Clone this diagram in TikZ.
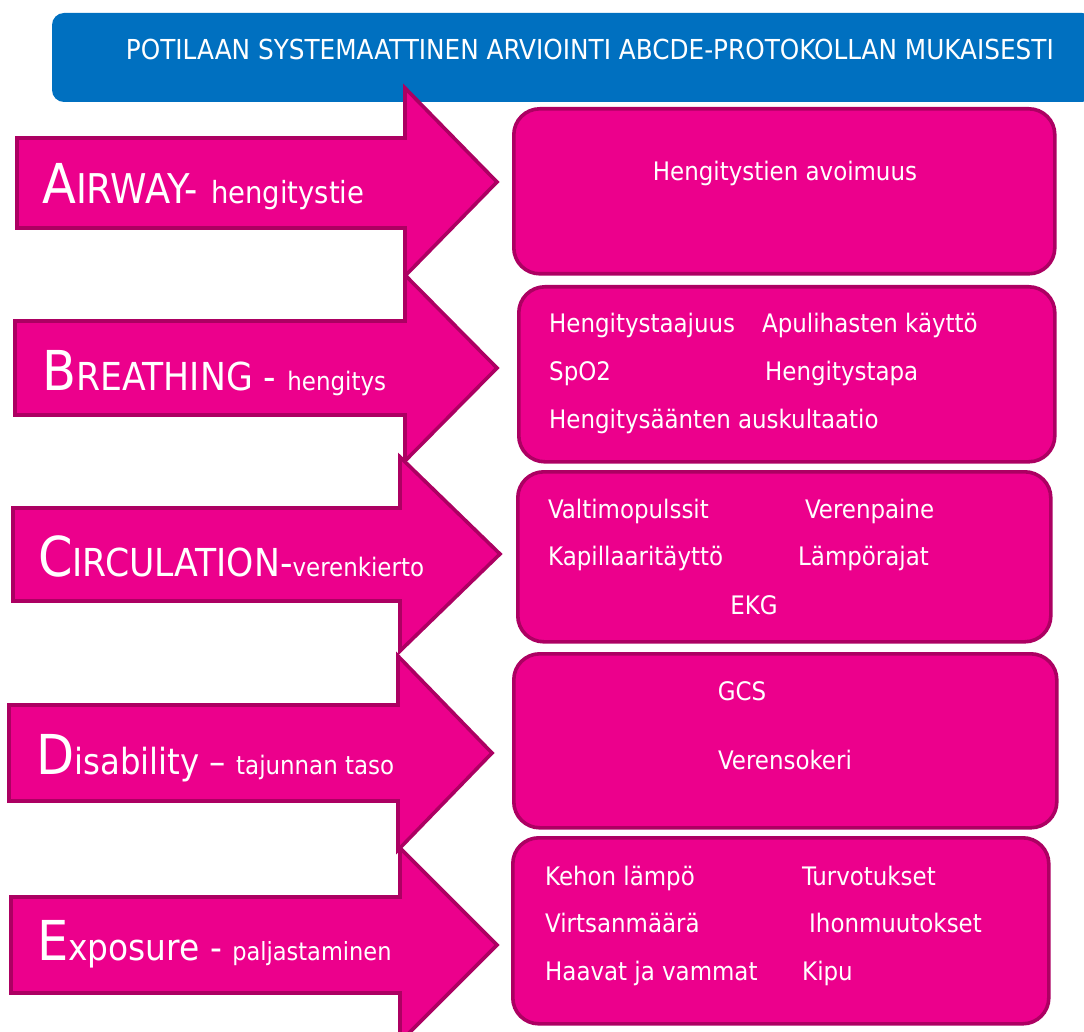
\documentclass[tikz,border=0pt]{standalone}
\usepackage{fontspec}
\setmainfont{DejaVu Sans Condensed}
\definecolor{mag}{RGB}{236,0,140}
\definecolor{magdark}{RGB}{172,0,98}
\definecolor{bannerblue}{RGB}{0,112,192}
\newcommand{\abcBig}{\fontsize{55}{55}\selectfont}
\newcommand{\abcMid}{\fontsize{38.5}{38.5}\selectfont}
\newcommand{\abcSz}[1]{\fontsize{#1}{#1}\selectfont}
\begin{document}
\begin{tikzpicture}[x=1pt,y=-1pt,
  arrowbody/.style={fill=mag,draw=magdark,line width=3.6pt,miter limit=10},
  infobox/.style={fill=mag,draw=magdark,line width=3.6pt,rounded corners=26pt,anchor=north west,inner sep=0pt},
  arrowlabel/.style={anchor=base west,inner sep=0pt,text=white},
  item/.style={anchor=base west,inner sep=0pt,text=white,font=\fontsize{25.5}{25.5}\selectfont},
  itemc/.style={item,anchor=base},
  bannertext/.style={anchor=base,inner sep=0pt,text=white,font=\fontsize{27.5}{27.5}\selectfont}
]
\useasboundingbox (0,0) rectangle (1084,1032);
\clip (0,0) rectangle (1084,1032);

% banner
\fill[bannerblue,rounded corners=12pt] (52,13) rectangle (1094,102);
\node[bannertext] (title) at (590,60) {POTILAAN SYSTEMAATTINEN ARVIOINTI ABCDE-PROTOKOLLAN MUKAISESTI};

% arrows
\draw[arrowbody] (17,138) -- (405,138) -- (405,88) -- (497,182) -- (405,276) -- (405,228) -- (17,228) -- cycle;
\draw[arrowbody] (15,321) -- (405,321) -- (405,275) -- (497,368) -- (405,461) -- (405,415) -- (15,415) -- cycle;
\draw[arrowbody] (13,508) -- (400,508) -- (400,457) -- (500,554) -- (400,651) -- (400,601) -- (13,601) -- cycle;
\draw[arrowbody] (9,705) -- (398,705) -- (398,656) -- (492,753) -- (398,850) -- (398,801) -- (9,801) -- cycle;
\draw[arrowbody] (11,897) -- (400,897) -- (400,848) -- (497,945) -- (400,1042) -- (400,993) -- (11,993) -- cycle;

\node[arrowlabel] (labA) at (42,204) {{\abcBig A}{\abcSz{41}IRWAY-}\hspace{13pt}{\abcSz{30.5}hengitystie}};
\node[arrowlabel] (labB) at (42,390) {{\abcBig B}{\abcMid REATHING - }{\abcSz{25.5}hengitys}};
\node[arrowlabel] (labC) at (38,576) {{\abcBig C}{\abcMid IRCULATION-}{\abcSz{25.5}verenkierto}};
\node[arrowlabel] (labD) at (36,774) {{\abcBig D}{\abcSz{36}isability – }{\abcSz{25.5}tajunnan taso}};
\node[arrowlabel] (labE) at (37,960) {{\abcBig E}{\abcSz{36.5}xposure - }{\abcSz{25}paljastaminen}};

% boxes
\node[infobox,minimum width=541pt,minimum height=165pt] (boxA) at (512,107) {};
\node[infobox,minimum width=536pt,minimum height=175pt] (boxB) at (517,285) {};
\node[infobox,minimum width=533pt,minimum height=170pt] (boxC) at (516,470) {};
\node[infobox,minimum width=543pt,minimum height=174pt] (boxD) at (512,652) {};
\node[infobox,minimum width=536pt,minimum height=186pt] (boxE) at (511,836) {};

% box A
\node[itemc] (a1) at (785,181) {Hengitystien avoimuus};
% box B
\node[item] (b1) at (549,332) {Hengitystaajuus};
\node[item] (b2) at (762,332) {Apulihasten käyttö};
\node[item] (b3) at (549,380) {SpO2};
\node[item] (b4) at (765,380) {Hengitystapa};
\node[item] (b5) at (549,428) {Hengitysäänten auskultaatio};
% box C
\node[item] (c1) at (548,518) {Valtimopulssit};
\node[item] (c2) at (805,518) {Verenpaine};
\node[item] (c3) at (548,565) {Kapillaaritäyttö};
\node[item] (c4) at (798,565) {Lämpörajat};
\node[itemc] (c5) at (754,614) {EKG};
% box D
\node[itemc] (d1) at (742,700) {GCS};
\node[item] (d2) at (718,769) {Verensokeri};
% box E
\node[item] (e1) at (545,885) {Kehon lämpö};
\node[item] (e2) at (802,885) {Turvotukset};
\node[item] (e3) at (545,932) {Virtsanmäärä};
\node[item] (e4) at (809,932) {Ihonmuutokset};
\node[item] (e5) at (545,980) {Haavat ja vammat};
\node[item] (e6) at (802,980) {Kipu};
\end{tikzpicture}
\end{document}
